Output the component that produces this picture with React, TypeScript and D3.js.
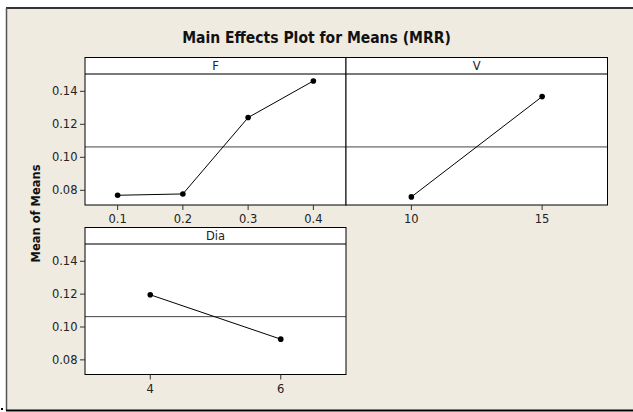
import React from "react";
import * as d3 from "d3";

const title = "Main Effects Plot for Means (MRR)";
const yLabel = "Mean of Means";
const fLevels = [0.1, 0.2, 0.3, 0.4];
const fMeans = [0.077, 0.0778, 0.1241, 0.1463];
const vLevels = [10, 15];
const vMeans = [0.076, 0.1368];
const diaLevels = [4, 6];
const diaMeans = [0.1196, 0.0926];
const yTicks = [0.08, 0.1, 0.12, 0.14];
const fTickLabels = ["0.1", "0.2", "0.3", "0.4"];
const vTickLabels = ["10", "15"];
const diaTickLabels = ["4", "6"];

const W = 633;
const H = 412;
const BG = "#EFEBE1";
const FONT = "'DejaVu Sans', Verdana, sans-serif";

type PanelProps = {
  name: string;
  levels: number[];
  means: number[];
  tickLabels: string[];
  xDomain: [number, number];
  x0: number;
  x1: number;
  top: number;
  bottom: number;
  showY: boolean;
  grandMean: number;
};

function Panel(p: PanelProps) {
  const stripH = 16.5;
  const plotTop = p.top + stripH;
  const x = d3.scaleLinear().domain(p.xDomain).range([p.x0, p.x1]);
  const y = d3.scaleLinear().domain([0.0711, 0.1505]).range([p.bottom, plotTop]);
  const line = d3
    .line<number>()
    .x((_, i) => x(p.levels[i]))
    .y((d) => y(d));
  return (
    <g>
      <rect x={p.x0} y={p.top} width={p.x1 - p.x0} height={p.bottom - p.top} fill="#fff" />
      <line x1={p.x0} x2={p.x1} y1={plotTop} y2={plotTop} stroke="#7a7a7a" strokeWidth={2} />
      <text
        x={(p.x0 + p.x1) / 2}
        y={p.top + 12.5}
        textAnchor="middle"
        fontFamily={FONT}
        fontSize={11.5}
        fill="#222"
      >
        {p.name}
      </text>
      <line
        x1={p.x0}
        x2={p.x1}
        y1={y(p.grandMean)}
        y2={y(p.grandMean)}
        stroke="#444"
        strokeWidth={1}
      />
      <path d={line(p.means) || ""} fill="none" stroke="#000" strokeWidth={1} />
      {p.means.map((m, i) => (
        <circle key={i} cx={x(p.levels[i])} cy={y(m)} r={2.8} fill="#000" />
      ))}
      <rect
        x={p.x0}
        y={p.top}
        width={p.x1 - p.x0}
        height={p.bottom - p.top}
        fill="none"
        stroke="#000"
        strokeWidth={1}
      />
      {p.levels.map((l, i) => (
        <g key={i}>
          <line x1={x(l)} x2={x(l)} y1={p.bottom} y2={p.bottom + 5} stroke="#333" />
          <text
            x={x(l)}
            y={p.bottom + 18}
            textAnchor="middle"
            fontFamily={FONT}
            fontSize={11.5}
            fill="#222"
          >
            {p.tickLabels[i]}
          </text>
        </g>
      ))}
      {p.showY &&
        yTicks.map((t, i) => (
          <g key={i}>
            <line x1={p.x0 - 5} x2={p.x0} y1={y(t)} y2={y(t)} stroke="#333" />
            <text
              x={p.x0 - 7.5}
              y={y(t) + 4}
              textAnchor="end"
              fontFamily={FONT}
              fontSize={11.5}
              fill="#222"
            >
              {t.toFixed(2)}
            </text>
          </g>
        ))}
    </g>
  );
}

export default function App() {
  const grandMean = d3.mean(fMeans) as number;
  return (
    <svg
      width={W}
      height={H}
      style={{ position: "absolute", left: 0, top: 0 }}
      xmlns="http://www.w3.org/2000/svg"
    >
      <rect x={0} y={0} width={W} height={H} fill="#fff" />
      <rect x={6} y={8} width={W - 6} height={402} fill={BG} />
      <line x1={6} x2={W} y1={8} y2={8} stroke="#333" strokeWidth={2} />
      <line x1={6.5} x2={6.5} y1={8} y2={410} stroke="#555" strokeWidth={1.5} />
      <line x1={6} x2={W} y1={410.5} y2={410.5} stroke="#000" strokeWidth={2} />
      <rect x={1} y={408} width={2} height={2} fill="#000" />
      <text
        x={316.5}
        y={43}
        textAnchor="middle"
        fontFamily="'DejaVu Sans Condensed', 'DejaVu Sans', sans-serif"
        fontWeight="bold"
        fontSize={15.5}
        fill="#111"
      >
        {title}
      </text>
      <text
        transform="translate(40,213.5) rotate(-90)"
        textAnchor="middle"
        fontFamily={FONT}
        fontWeight="bold"
        fontSize={11.5}
        fill="#111"
      >
        {yLabel}
      </text>
      <Panel
        name="F"
        levels={fLevels}
        means={fMeans}
        tickLabels={fTickLabels}
        xDomain={[0.05, 0.45]}
        x0={85}
        x1={346}
        top={57.5}
        bottom={205}
        showY={true}
        grandMean={grandMean}
      />
      <Panel
        name="V"
        levels={vLevels}
        means={vMeans}
        tickLabels={vTickLabels}
        xDomain={[7.5, 17.5]}
        x0={346}
        x1={607.5}
        top={57.5}
        bottom={205}
        showY={false}
        grandMean={grandMean}
      />
      <Panel
        name="Dia"
        levels={diaLevels}
        means={diaMeans}
        tickLabels={diaTickLabels}
        xDomain={[3, 7]}
        x0={85}
        x1={346}
        top={227.5}
        bottom={374.5}
        showY={true}
        grandMean={grandMean}
      />
    </svg>
  );
}
